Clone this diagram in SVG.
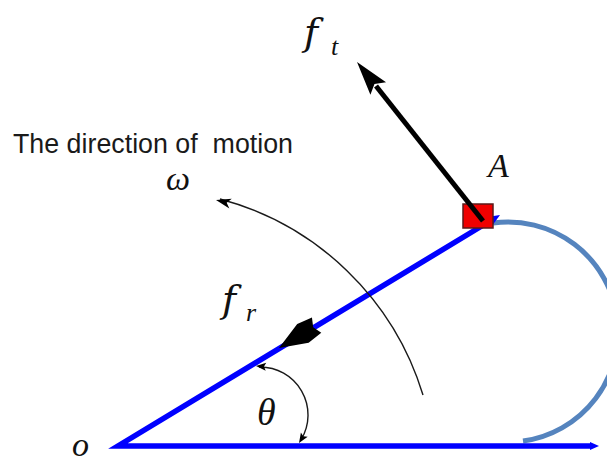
<svg xmlns="http://www.w3.org/2000/svg" width="607" height="462" viewBox="0 0 607 462">
<style>
.math{font-family:"Liberation Serif","Times New Roman",serif;font-style:italic;fill:#111}
.fsym{font-family:"DejaVu Serif","Liberation Serif",serif;font-style:italic;fill:#111}
.lbl{font-family:"Liberation Sans",Arial,sans-serif;fill:#1a1a1a}
.blue{stroke:#0000ff;fill:none;stroke-width:5.5}
.bluefill{fill:#0000ff}
.thin{stroke:#1a1a1a;fill:none;stroke-width:1.4}
.blk{fill:#000}
</style>
<rect width="607" height="462" fill="#fff"/>
<g id="connectors">
  <path d="M493,223 A110,110 0 0,1 523,441" fill="none" stroke="#5584be" stroke-width="5"/>
  <path class="blue" d="M592,446 L118,446 L490,221" stroke-linejoin="miter" stroke-miterlimit="6"/>
  <path class="bluefill" d="M0,0 L-12,-5 L-12,5 Z" transform="translate(500,215) rotate(-31.26)"/>
  <path class="bluefill" d="M0,0 L-9,-4 L-9,4 Z" transform="translate(599,446)"/>
  <path class="blk" d="M0,0 L-28,-11 L-44,-9 L-40,0 L-44,9 L-28,11 Z" transform="translate(279,348) rotate(148.74)"/>
  <path class="thin" d="M423,395 A290,290 0 0,0 220,199"/>
  <path class="blk" d="M0,0 L-15,-5 L-11,0 L-15,5 Z" transform="translate(216,200) rotate(-166)"/>
  <path class="thin" d="M259,367 A48,48 0 0,1 301,440"/>
  <path class="blk" d="M0,0 L-10,-4 L-8,0 L-10,4 Z" transform="translate(256,366) rotate(184)"/>
  <path class="blk" d="M0,0 L-10,-4 L-8,0 L-10,4 Z" transform="translate(299,443) rotate(122)"/>
</g>
<g id="node-A">
  <rect x="463" y="204" width="30" height="24" fill="#f00000" stroke="#5a1a1a" stroke-width="1.5"/>
  <text class="math" x="488" y="177" font-size="34">A</text>
</g>
<g id="ft-arrow">
  <line x1="483" y1="221" x2="376" y2="86" stroke="#000" stroke-width="5"/>
  <path class="blk" d="M0,0 L-34,-10 L-28,0 L-34,10 Z" transform="translate(357,62) rotate(-128.6)"/>
  <text class="fsym" x="304" y="45" font-size="38">f</text>
  <text class="math" x="331" y="55" font-size="26">t</text>
</g>
<g id="fr-label">
  <text class="fsym" x="222" y="312" font-size="38">f</text>
  <text class="math" x="246" y="321" font-size="26">r</text>
</g>
<g id="motion-label">
  <text class="lbl" x="13" y="153" font-size="27" textLength="280" lengthAdjust="spacingAndGlyphs" xml:space="preserve">The direction of  motion</text>
  <text class="math" x="166" y="190" font-size="34">ω</text>
</g>
<g id="theta-label">
  <text class="math" x="257" y="425" font-size="38">θ</text>
</g>
<g id="node-O">
  <text class="math" x="72" y="456" font-size="34">o</text>
</g>
</svg>
